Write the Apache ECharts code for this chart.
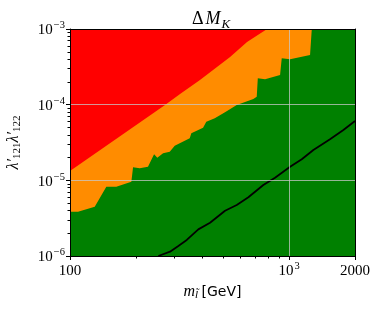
<!DOCTYPE html>
<html>
<head>
<meta charset="utf-8">
<script src="https://cdn.jsdelivr.net/npm/echarts@6/dist/echarts.min.js"></script>
<style>html,body{margin:0;padding:0;background:#fff}#c{width:380px;height:311px}</style>
</head>
<body>
<div id="c"></div>
<script>
// Red region lower boundary (mass GeV, coupling product)
const redX = [100, 271.5, 318, 392, 538, 643, 794];
const redY = [1.33e-5, 9.9e-5, 1.38e-4, 2.12e-4, 4.26e-4, 6.73e-4, 1e-3];
// Orange region lower boundary
const orangeX = [100, 108.8, 129.7, 146.5, 162.7, 190.6, 194, 194, 208, 227, 242, 250.4, 266, 285.3, 300.7, 352, 358, 364.5, 405, 419, 458, 510, 577, 687, 712, 720, 777, 910, 926, 1011, 1247, 1270];
const orangeY = [3.85e-6, 3.85e-6, 4.49e-6, 8.24e-6, 8.24e-6, 9.6e-6, 9.6e-6, 1.49e-5, 1.44e-5, 1.51e-5, 2.21e-5, 1.99e-5, 2.28e-5, 2.39e-5, 2.87e-5, 3.60e-5, 4.19e-5, 4.19e-5, 4.96e-5, 5.96e-5, 6.61e-5, 7.93e-5, 9.9e-5, 1.19e-4, 1.27e-4, 2.23e-4, 2.16e-4, 2.47e-4, 4.10e-4, 3.98e-4, 4.53e-4, 1e-3];
// Black curve
const lineX = [253.1, 286.2, 312.3, 341.2, 385.3, 435.8, 510.3, 577, 652, 763, 863, 1011, 1143, 1291, 1538, 1770, 2000];
const lineY = [1.0e-6, 1.14e-6, 1.36e-6, 1.63e-6, 2.25e-6, 2.75e-6, 3.97e-6, 4.72e-6, 5.97e-6, 8.67e-6, 1.08e-5, 1.51e-5, 1.90e-5, 2.52e-5, 3.48e-5, 4.63e-5, 6.08e-5];
// Axis ranges and ticks
const xMin = 100, xMax = 2000;
const yMin = 1e-6, yMax = 1e-3;
const xMinorTicks = [200, 300, 400, 500, 600, 700, 800, 900];
const yMinorTicks = [2e-6,3e-6,4e-6,5e-6,6e-6,7e-6,8e-6,9e-6,2e-5,3e-5,4e-5,5e-5,6e-5,7e-5,8e-5,9e-5,2e-4,3e-4,4e-4,5e-4,6e-4,7e-4,8e-4,9e-4];

const zip = (a, b) => a.map((v, i) => [v, b[i]]);
const serif = 'Liberation Serif';
const gridColor = 'rgba(200,200,200,0.75)';
const tickRich = {
  b: { fontFamily: serif, fontSize: 15, color: '#000', verticalAlign: 'bottom', lineHeight: 18 },
  s: { fontFamily: serif, fontSize: 10.5, color: '#000', verticalAlign: 'top', lineHeight: 18, padding: [0, 0, 0, 1] }
};

const chart = echarts.init(document.getElementById('c'), null, { renderer: 'canvas' });
chart.setOption({
  animation: false,
  backgroundColor: '#fff',
  title: {
    text: '{d|Δ}{m|M}{k|K}',
    left: 187, top: 2,
    textStyle: {
      fontWeight: 'normal',
      rich: {
        d: { fontFamily: serif, fontSize: 18, fontWeight: 'normal', color: '#000', verticalAlign: 'bottom', lineHeight: 21 },
        m: { fontFamily: serif, fontSize: 18, fontWeight: 'normal', fontStyle: 'italic', color: '#000', verticalAlign: 'bottom', lineHeight: 21, padding: [0, 1, 0, 2] },
        k: { fontFamily: serif, fontSize: 13, fontWeight: 'normal', fontStyle: 'italic', color: '#000', verticalAlign: 'bottom', lineHeight: 15, padding: [0,0,-3,0] }
      }
    }
  },
  grid: { left: 70, right: 25, top: 29, bottom: 55, show: true, backgroundColor: '#008000', borderWidth: 0, containLabel: false, outerBoundsMode: 'none' },
  xAxis: [
    {
      type: 'log', logBase: 10, min: xMin, max: xMax, position: 'bottom', z: 5,
      name: '{m|m}{l|l̃} {g|[GeV]}', nameLocation: 'middle', nameGap: 28,
      nameTextStyle: { rich: {
        m: { fontFamily: serif, fontStyle: 'italic', fontSize: 16, color: '#000' },
        l: { fontFamily: serif, fontStyle: 'italic', fontSize: 11, color: '#000', padding: [0,0,-6,0] },
        g: { fontFamily: 'DejaVu Sans', fontSize: 14, color: '#000' }
      }},
      axisLine: { show: true, lineStyle: { color: '#000', width: 1 } },
      axisTick: { show: true, inside: false, length: 4, lineStyle: { color: '#000', width: 1 } },
      axisLabel: {
        margin: 5,
        formatter: v => Math.abs(v - 1000) < 1e-6 ? '{b|10}{s|3}' : '{b|' + Math.round(v) + '}',
        rich: tickRich
      },
      splitLine: { show: true, lineStyle: { color: gridColor, width: 1 } },
      minorTick: { show: false }
    },
    {
      type: 'log', logBase: 10, min: xMin, max: xMax, position: 'bottom', z: 5,
      axisLine: { show: false },
      axisTick: { show: true, inside: false, length: 2.5, customValues: xMinorTicks, lineStyle: { color: '#000', width: 1 } },
      axisLabel: { show: false },
      splitLine: { show: false }
    },
    {
      type: 'log', logBase: 10, min: xMin, max: xMax, position: 'top', z: 5,
      axisLine: { show: true, lineStyle: { color: '#000', width: 1 } },
      axisTick: { show: false }, axisLabel: { show: false }, splitLine: { show: false }
    }
  ],
  yAxis: [
    {
      type: 'log', logBase: 10, min: yMin, max: yMax, position: 'left', z: 5,
      name: '{l|λ′}{s|121}{l|λ′}{s|122}', nameLocation: 'middle', nameGap: 48, nameRotate: 90,
      nameTextStyle: { rich: {
        l: { fontFamily: serif, fontStyle: 'italic', fontSize: 16, color: '#000' },
        s: { fontFamily: serif, fontSize: 11, color: '#000', padding: [0,0,-6,0] }
      }},
      axisLine: { show: true, lineStyle: { color: '#000', width: 1 } },
      axisTick: { show: true, inside: false, length: 4, lineStyle: { color: '#000', width: 1 } },
      axisLabel: {
        margin: 5,
        formatter: v => '{b|10}{s|−' + Math.round(-Math.log10(v)) + '}',
        rich: tickRich
      },
      splitLine: { show: true, lineStyle: { color: gridColor, width: 1 } },
      minorTick: { show: false }
    },
    {
      type: 'log', logBase: 10, min: yMin, max: yMax, position: 'left', z: 5,
      axisLine: { show: false },
      axisTick: { show: true, inside: false, length: 2.5, customValues: yMinorTicks, lineStyle: { color: '#000', width: 1 } },
      axisLabel: { show: false },
      splitLine: { show: false }
    },
    {
      type: 'log', logBase: 10, min: yMin, max: yMax, position: 'right', z: 5,
      axisLine: { show: true, lineStyle: { color: '#000', width: 1 } },
      axisTick: { show: false }, axisLabel: { show: false }, splitLine: { show: false }
    }
  ],
  series: [
    {
      name: 'orange', type: 'line', xAxisIndex: 0, yAxisIndex: 0, z: 2,
      data: zip(orangeX, orangeY), showSymbol: false, symbol: 'none',
      lineStyle: { width: 0 }, areaStyle: { color: '#ff8c00', opacity: 1, origin: 'end' }
    },
    {
      name: 'red', type: 'line', xAxisIndex: 0, yAxisIndex: 0, z: 3,
      data: zip(redX, redY), showSymbol: false, symbol: 'none',
      lineStyle: { width: 0 }, areaStyle: { color: '#ff0000', opacity: 1, origin: 'end' }
    },
    {
      name: 'curve', type: 'line', xAxisIndex: 0, yAxisIndex: 0, z: 4,
      data: zip(lineX, lineY), showSymbol: false, symbol: 'none',
      lineStyle: { color: '#000', width: 1.8 }
    }
  ]
});
</script>
</body>
</html>
